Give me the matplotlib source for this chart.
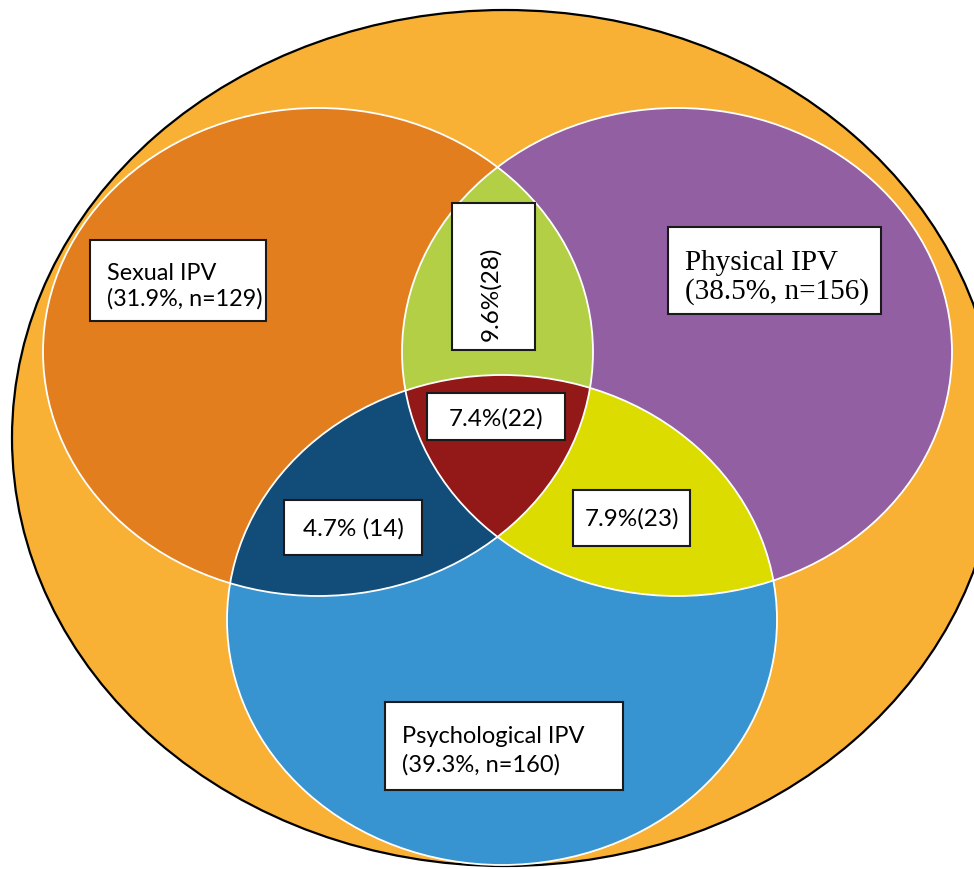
import numpy as np
import matplotlib.pyplot as plt
from matplotlib.patches import Ellipse, Rectangle, Polygon

# --- data ---
set_names = ["Sexual IPV", "Physical IPV", "Psychological IPV"]
set_pct = [31.9, 38.5, 39.3]
set_n = [129, 156, 160]

overlap_names = ["Sexual & Physical", "Sexual & Psychological",
                 "Physical & Psychological", "All three"]
overlap_pct = [9.6, 4.7, 7.9, 7.4]
overlap_n = [28, 14, 23, 22]
overlap_sep = ["", " ", "", ""]

# --- geometry (pixel coords, y downwards) ---
W, H = 974, 869
outer = (505, 438, 493, 428)
ell = {
    "sex": (318, 352, 275, 244),
    "phy": (677, 352, 275, 244),
    "psy": (502, 620, 275, 245),
}
set_col = {"sex": "#E37E1F", "phy": "#925FA3", "psy": "#3894D1"}
pair_col = ["#B2CF45", "#124D7A", "#DCDC00", "#931818"]
pairs = [("sex", "phy"), ("sex", "psy"), ("phy", "psy"), ("sex", "phy", "psy")]


def ell_pts(cx, cy, a, b, n=1440):
    t = np.linspace(0, 2 * np.pi, n, endpoint=False)
    return np.c_[cx + a * np.cos(t), cy + b * np.sin(t)]


def inside(p, e):
    cx, cy, a, b = e
    return ((p[:, 0] - cx) / a) ** 2 + ((p[:, 1] - cy) / b) ** 2 <= 1.0


def overlap(keys):
    # intersection of convex shapes -> collect boundary points, sort by angle
    pts = []
    for k in keys:
        p = ell_pts(*ell[k])
        m = np.ones(len(p), bool)
        for o in keys:
            if o != k:
                m &= inside(p, ell[o])
        pts.append(p[m])
    pts = np.vstack(pts)
    c = pts.mean(axis=0)
    ang = np.arctan2(pts[:, 1] - c[1], pts[:, 0] - c[0])
    return pts[np.argsort(ang)]


fig = plt.figure(figsize=(9.74, 8.69), dpi=100)
ax = fig.add_axes([0, 0, 1, 1])
ax.set_xlim(0, W)
ax.set_ylim(H, 0)
ax.axis("off")

ax.add_patch(Ellipse(outer[:2], 2 * outer[2], 2 * outer[3],
                     facecolor="#F8B135", edgecolor="black", lw=1.6))

for k in ["sex", "phy", "psy"]:
    cx, cy, a, b = ell[k]
    ax.add_patch(Ellipse((cx, cy), 2 * a, 2 * b, facecolor=set_col[k], edgecolor="none"))

for keys, col in zip(pairs, pair_col):
    ax.add_patch(Polygon(overlap(keys), closed=True, facecolor=col, edgecolor="none"))

for k in ["sex", "phy", "psy"]:
    cx, cy, a, b = ell[k]
    ax.add_patch(Ellipse((cx, cy), 2 * a, 2 * b, facecolor="none",
                         edgecolor="white", lw=1.3))


def box(x0, y0, x1, y1):
    ax.add_patch(Rectangle((x0, y0), x1 - x0, y1 - y0, facecolor="white",
                           edgecolor="#1a1a1a", lw=1.5, zorder=5))


# set labels
sans = ["Lato", "DejaVu Sans"]
serif = ["Liberation Serif", "DejaVu Serif"]
set_boxes = [(90, 240, 266, 321), (668, 227, 881, 314), (385, 702, 623, 790)]
set_fonts = [(sans, 16.8, 1.25, 6), (serif, 21, 1.12, 7), (sans, 17, 1.4, 5)]
for name, p, n, bx, (fam, fs, ls, dy) in zip(set_names, set_pct, set_n, set_boxes, set_fonts):
    box(*bx)
    ax.text(bx[0] + 17, (bx[1] + bx[3]) / 2 + dy, f"{name}\n({p}%, n={n})",
            ha="left", va="center", fontsize=fs, family=fam,
            linespacing=ls, zorder=6)

# overlap labels
ov_boxes = [(452, 203, 535, 350), (284, 500, 422, 555), (573, 490, 690, 546),
            (427, 393, 565, 440)]
ov_rot = [90, 0, 0, 0]
ov_dy = [17, 1, 1, 2]
for p, n, sep, bx, r, dy in zip(overlap_pct, overlap_n, overlap_sep, ov_boxes, ov_rot, ov_dy):
    box(*bx)
    ax.text((bx[0] + bx[2]) / 2 - (3 if r else 0), (bx[1] + bx[3]) / 2 + dy,
            f"{p}%{sep}({n})", ha="center", va="center", fontsize=17.5,
            family=sans, rotation=r, zorder=6)

fig.savefig("out.png", dpi=100)
